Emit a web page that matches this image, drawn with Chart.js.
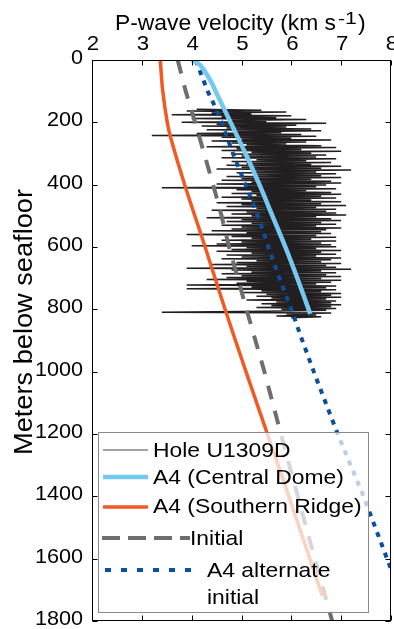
<!DOCTYPE html>
<html><head><meta charset="utf-8">
<script src="https://cdn.jsdelivr.net/npm/chart.js@4.4.1/dist/chart.umd.min.js"></script>
<style>html,body{margin:0;padding:0;background:#fff;}canvas{display:block;}</style>
</head><body>
<canvas id="c" width="394" height="629"></canvas>
<script>
const xTicks=[2,3,4,5,6,7,8];
const yTicks=[0,200,400,600,800,1000,1200,1400,1600,1800];
const xTitle="P-wave velocity (km s";
const xTitleSup="-1";
const yTitle="Meters below seafloor";
const seriesNames=["Hole U1309D","A4 (Central Dome)","A4 (Southern Ridge)","Initial","A4 alternate","initial"];

const holeDepth=[158,161,164,167,170,173,176,179,182,185,
188,191,194,197,200,203,206,209,212,215,
218,221,224,227,230,233,236,239,242,245,
248,251,254,257,260,263,266,269,272,275,
278,281,284,287,290,293,296,299,302,305,
308,311,314,317,320,323,326,329,332,335,
338,341,344,347,350,353,356,359,362,365,
368,371,374,377,380,383,386,389,392,395,
398,401,404,407,410,413,416,419,422,425,
428,431,434,437,440,443,446,449,452,455,
458,461,464,467,470,473,476,479,482,485,
488,491,494,497,500,503,506,509,512,515,
518,521,524,527,530,533,536,539,542,545,
548,551,554,557,560,563,566,569,572,575,
578,581,584,587,590,593,596,599,602,605,
608,611,614,617,620,623,626,629,632,635,
638,641,644,647,650,653,656,659,662,665,
668,671,674,677,680,683,686,689,692,695,
698,701,704,707,710,713,716,719,722,725,
728,731,734,737,740,743,746,749,752,755,
758,761,764,767,770,773,776,779,782,785,
788,791,794,797,800,803,806,809,812,815,
818,821,824,827];
const holeVp=[4.1,5.4,3.9,5.9,4.4,5.2,3.6,6.0,4.6,5.7,
4.0,6.3,4.8,5.5,3.8,6.7,4.5,6.1,4.2,5.9,
4.7,6.4,4.3,6.6,4.9,5.8,4.1,6.2,3.2,6.5,
4.6,6.0,5.0,6.8,4.4,6.3,4.8,5.9,5.1,6.6,
4.3,6.9,4.9,6.2,4.6,7.0,5.2,6.4,4.8,6.7,
5.0,6.5,4.6,6.9,5.3,6.3,4.8,6.8,5.1,6.4,
4.7,7.0,5.0,6.6,4.5,7.2,5.2,6.5,4.9,6.9,
5.3,6.6,4.7,7.0,5.0,6.4,4.6,6.8,5.2,7.0,
4.5,6.7,5.1,6.5,3.4,6.9,4.9,6.3,5.2,6.8,
4.8,7.0,5.3,6.6,4.6,6.9,5.0,6.4,5.2,7.0,
4.5,6.6,5.0,7.1,4.7,6.5,5.3,6.9,4.4,6.7,
5.1,6.9,4.8,7.1,5.2,6.5,4.3,6.8,5.0,7.0,
4.7,6.6,5.2,6.9,4.6,6.5,5.0,7.0,4.8,6.7,
4.4,6.6,5.1,6.8,3.9,6.5,4.8,6.9,5.2,6.4,
4.6,6.9,5.0,6.6,4.5,6.8,4.0,6.9,5.1,6.5,
4.8,7.0,4.5,6.6,5.2,6.9,4.7,6.5,5.0,7.0,
4.6,6.8,5.3,6.6,4.9,7.0,4.4,6.7,5.1,6.9,
3.9,7.2,4.8,6.6,5.2,6.9,4.6,6.7,5.0,7.0,
4.7,6.6,4.3,7.0,5.1,6.8,4.9,6.5,3.9,6.9,
5.2,6.7,3.9,6.9,5.4,6.6,5.0,7.0,5.5,6.8,
5.3,7.0,5.6,6.7,5.1,6.9,5.7,6.8,5.4,7.0,
5.6,6.8,5.3,6.9,5.8,6.7,5.5,3.4,6.8,5.9,
6.5,5.7,6.6,6.0];

const domeDepth=[0,8,20,40,70,100,200,300,400,500,600,700,815];
const domeVp=[4.0,4.1,4.19,4.28,4.39,4.48,4.78,5.08,5.36,5.62,5.88,6.12,6.38];

const ridgeDepth=[0,100,200,250,400,600,800,1000,1200,1400,1600,1720];
const ridgeVp=[3.37,3.42,3.51,3.58,3.86,4.27,4.67,5.09,5.52,5.95,6.37,6.62];

const initDepth=[0,100,200,300,400,500,600,800,1000,1200,1400,1600,1800];
const initVp=[3.72,3.88,4.07,4.25,4.43,4.6,4.75,5.1,5.46,5.79,6.13,6.47,6.82];

const altDepth=[0,50,100,150,200,300,400,500,600,700,800,900,1000,1200,1400,1600,1700];
const altVp=[4.08,4.2,4.32,4.47,4.6,4.83,5.08,5.33,5.54,5.76,6.0,6.22,6.45,6.93,7.45,7.92,8.16];

const C={hole:'#231f20',dome:'#74c9f0',ridge:'#f15a24',init:'#6d6e70',alt:'#0a4f9e'};
const FONT='"Liberation Sans", Arial, Helvetica, sans-serif';
const pts=(d,v)=>d.map((y,i)=>({x:v[i],y}));

function fitText(ctx,text,x,y,size,align,target,sx){
  ctx.font=size+'px '+FONT;
  const w=ctx.measureText(text).width;
  const s=target?target/w:(sx||1);
  ctx.save();ctx.translate(x,y);ctx.scale(s,1);
  ctx.textAlign=align;ctx.textBaseline='alphabetic';
  ctx.fillText(text,0,0);ctx.restore();
  return w*s;
}

const deco={id:'deco',
  afterDatasetsDraw(chart){
    const ctx=chart.ctx,a=chart.chartArea,xs=chart.scales.x,ys=chart.scales.y;
    ctx.save();
    ctx.fillStyle='rgba(255,255,255,0.72)';
    ctx.fillRect(98,432,270,180);
    ctx.strokeStyle='#8a8a8a';ctx.lineWidth=1;
    ctx.strokeRect(98.5,432.5,270,180);
    const seg=(x1,x2,y,col,w,dash)=>{ctx.save();ctx.strokeStyle=col;ctx.lineWidth=w;ctx.setLineDash(dash||[]);ctx.beginPath();ctx.moveTo(x1,y);ctx.lineTo(x2,y);ctx.stroke();ctx.restore();};
    seg(103,148,450,'#444',1);
    seg(103,148,477,C.dome,4.5);
    seg(103,148,507,C.ridge,3.5);
    seg(102,190,538,C.init,4,[18,8]);
    seg(105,192,570,C.alt,4,[6,10]);
    ctx.fillStyle='#000';
    fitText(ctx,seriesNames[0],153,457,21,'left',null,1.09);
    fitText(ctx,seriesNames[1],153,484,21,'left',null,1.09);
    fitText(ctx,seriesNames[2],153,513,21,'left',null,1.09);
    fitText(ctx,seriesNames[3],190,545,21,'left',null,1.09);
    fitText(ctx,seriesNames[4],207,577,21,'left',null,1.09);
    fitText(ctx,seriesNames[5],207,604,21,'left',null,1.09);
    ctx.strokeStyle='#000';ctx.lineWidth=1;ctx.setLineDash([]);
    const L=Math.round(a.left)+0.5,R=Math.round(a.right)-0.5,T=Math.round(a.top)+0.5,B=Math.round(a.bottom)-0.5;
    ctx.strokeRect(L,T,R-L,B-T);
    ctx.beginPath();
    xTicks.forEach(v=>{const p=Math.round(xs.getPixelForValue(v))+0.5;ctx.moveTo(p,T);ctx.lineTo(p,T+5);ctx.moveTo(p,B);ctx.lineTo(p,B-5);});
    yTicks.forEach(v=>{const p=Math.round(ys.getPixelForValue(v))+0.5;ctx.moveTo(L,p);ctx.lineTo(L+5,p);ctx.moveTo(R,p);ctx.lineTo(R-5,p);});
    ctx.stroke();
    ctx.fillStyle='#000';
    xTicks.forEach(v=>fitText(ctx,String(v),xs.getPixelForValue(v)+1,50,21,'center',null,1.06));
    yTicks.forEach(v=>fitText(ctx,String(v),83,ys.getPixelForValue(v)+4,20,'right',null,1.08));
    const w1=fitText(ctx,xTitle,115,30,22,'left',221);
    fitText(ctx,xTitleSup,115+w1+2,24,16,'left',19);
    fitText(ctx,')',358,30,22,'left',null,1.05);
    ctx.save();ctx.translate(32,322);ctx.rotate(-Math.PI/2);
    ctx.font='25px '+FONT;const wy=ctx.measureText(yTitle).width;
    ctx.scale(266/wy,1);ctx.textAlign='center';ctx.textBaseline='alphabetic';ctx.fillText(yTitle,0,0);
    ctx.restore();
    ctx.restore();
  }
};

new Chart(document.getElementById('c'),{
  type:'scatter',
  data:{datasets:[
    {label:seriesNames[0],data:pts(holeDepth,holeVp),showLine:true,borderColor:C.hole,borderWidth:1.5,pointRadius:0,order:5},
    {label:seriesNames[3],data:pts(initDepth,initVp),showLine:true,borderColor:C.init,borderWidth:4,borderDash:[14,12],pointRadius:0,order:4},
    {label:seriesNames[4]+' '+seriesNames[5],data:pts(altDepth,altVp),showLine:true,borderColor:C.alt,borderWidth:4,borderDash:[5,6],pointRadius:0,order:3},
    {label:seriesNames[2],data:pts(ridgeDepth,ridgeVp),showLine:true,borderColor:C.ridge,borderWidth:3.5,pointRadius:0,order:2,tension:0.3},
    {label:seriesNames[1],data:pts(domeDepth,domeVp),showLine:true,borderColor:C.dome,borderWidth:4.5,pointRadius:0,order:1,tension:0.3}
  ]},
  options:{
    responsive:false,animation:false,devicePixelRatio:1,
    layout:{padding:{left:0,top:0,right:3,bottom:8}},
    plugins:{legend:{display:false},tooltip:{enabled:false}},
    scales:{
      x:{type:'linear',position:'top',min:2,max:8,ticks:{display:false,stepSize:1},grid:{display:false},border:{display:false},afterFit(s){s.height=60;}},
      y:{type:'linear',position:'left',reverse:true,min:0,max:1800,ticks:{display:false,stepSize:200},grid:{display:false},border:{display:false},afterFit(s){s.width=92;}}
    }
  },
  plugins:[deco]
});
</script>
</body></html>
